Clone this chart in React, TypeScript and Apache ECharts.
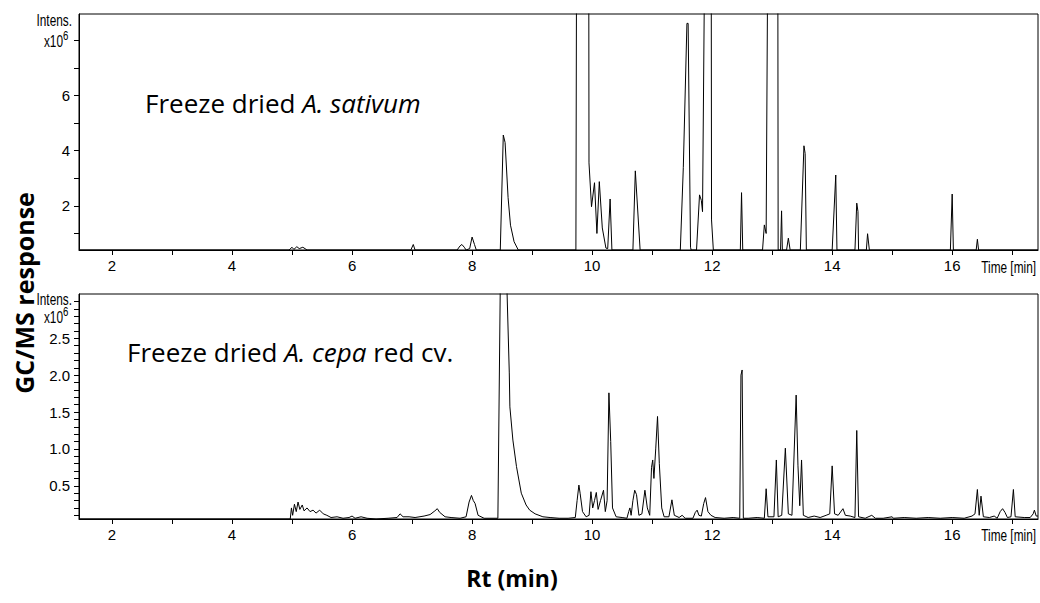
import React, { useEffect, useRef } from "react";
import * as echarts from "echarts";

// Retention time axis (min)
const xLabelValues = [2, 4, 6, 8, 10, 12, 14, 16];
const xTickValues = [2, 3, 4, 5, 6, 7, 8, 9, 10, 11, 12, 13, 14, 15, 16, 17];

// Panel 1: Freeze dried A. sativum (intensity x10^6)
const sativumYLabels = [2, 4, 6];
const sativumYTicks = [1, 2, 3, 4, 5, 6, 7, 8];
const sativumTime = [
  1.45, 4.95, 5.0, 5.03, 5.08, 5.12, 5.18, 5.25, 6.98, 7.02, 7.05, 7.75, 7.8, 7.83, 7.87, 7.9,
  7.96, 8.0, 8.04, 8.07, 8.47, 8.52, 8.55, 8.6, 8.64, 8.7, 8.77, 9.73, 9.75, 9.94, 9.948,
  9.99, 10.04, 10.08, 10.12, 10.17, 10.23, 10.26, 10.3, 10.33, 10.68, 10.72, 10.8,
  11.47, 11.52, 11.58, 11.6, 11.64, 11.65, 11.74, 11.79, 11.82, 11.84, 11.91, 11.98, 11.99, 12.02,
  12.47, 12.49, 12.51, 12.84, 12.87, 12.9, 12.95, 13.09, 13.1, 13.14, 13.157, 13.17,
  13.24, 13.27, 13.3, 13.47, 13.53, 13.55, 13.57, 14.0, 14.06, 14.08, 14.38, 14.41, 14.43, 14.44,
  14.57, 14.59, 14.62, 15.97, 16.0, 16.02, 16.4, 16.42, 16.44, 17.43,
];
const sativumIntensity = [
  0.4, 0.4, 0.5, 0.42, 0.52, 0.45, 0.5, 0.4, 0.4, 0.6, 0.4, 0.4, 0.55, 0.6, 0.5, 0.4,
  0.45, 0.87, 0.6, 0.4, 0.4, 4.57, 4.3, 2.3, 1.3, 0.7, 0.4, 0.4, 20, 20, 3.56,
  1.97, 2.84, 1.0, 2.88, 1.2, 0.47, 0.45, 2.25, 0.4, 0.4, 3.27, 0.4,
  0.4, 3.4, 8.62, 8.62, 0.5, 0.4, 0.4, 2.4, 2.2, 1.79, 20, 20, 1.49, 0.4,
  0.4, 2.48, 0.4, 0.4, 1.31, 1.0, 20, 20, 0.4, 0.4, 1.82, 0.4,
  0.4, 0.83, 0.4, 0.4, 4.18, 3.9, 0.4, 0.4, 3.12, 0.4, 0.4, 2.1, 1.8, 0.4,
  0.4, 0.99, 0.4, 0.4, 2.43, 0.4, 0.4, 0.79, 0.4, 0.4,
];

// Panel 2: Freeze dried A. cepa red cv. (intensity x10^6)
const cepaYLabels = [0.5, 1.0, 1.5, 2.0, 2.5];
const cepaYTicks = [
  0.1, 0.2, 0.3, 0.4, 0.5, 0.6, 0.7, 0.8, 0.9, 1.0, 1.1, 1.2, 1.3, 1.4, 1.5,
  1.6, 1.7, 1.8, 1.9, 2.0, 2.1, 2.2, 2.3, 2.4, 2.5, 2.6, 2.7, 2.8, 2.9, 3.0,
];
const cepaTime = [
  1.45, 4.97, 4.99, 5.01, 5.04, 5.07, 5.1, 5.13, 5.17, 5.2, 5.25, 5.3, 5.35, 5.4, 5.46, 5.52,
  5.58, 5.65, 5.75, 5.85, 5.95, 6.0, 6.05, 6.15, 6.25, 6.4, 6.6, 6.75, 6.8, 6.85, 6.95,
  7.05, 7.2, 7.3, 7.38, 7.42, 7.46, 7.55, 7.65, 7.8, 7.9, 7.95, 7.99, 8.02, 8.05, 8.1, 8.2,
  8.43, 8.53, 8.58, 8.62, 8.63, 8.68, 8.74, 8.82, 8.9, 8.96, 9.05, 9.18, 9.3, 9.45, 9.6,
  9.72, 9.75, 9.78, 9.8, 9.84, 9.9, 9.95, 9.98, 10.01, 10.04, 10.07, 10.1, 10.14, 10.19,
  10.22, 10.25, 10.28, 10.31, 10.34, 10.4, 10.5, 10.58, 10.61, 10.63, 10.65, 10.68, 10.71,
  10.74, 10.78, 10.83, 10.88, 10.92, 10.96, 10.99, 11.01, 11.03, 11.06, 11.09, 11.12, 11.16,
  11.2, 11.28, 11.33, 11.37, 11.45, 11.5, 11.55, 11.68, 11.72, 11.75, 11.78, 11.82, 11.86,
  11.89, 11.93, 11.98, 12.05, 12.2, 12.35, 12.46, 12.48, 12.5, 12.52, 12.6, 12.75, 12.87,
  12.9, 12.93, 13.03, 13.07, 13.1, 13.16, 13.22, 13.27, 13.33, 13.4, 13.43, 13.46, 13.49,
  13.52, 13.6, 13.7, 13.8, 13.9, 13.96, 14.0, 14.04, 14.1, 14.18, 14.22, 14.3, 14.38, 14.41,
  14.44, 14.55, 14.66, 14.72, 14.85, 15.0, 15.02, 15.2, 15.4, 15.6, 15.8, 16.0, 16.2, 16.33,
  16.38, 16.42, 16.45, 16.48, 16.52, 16.62, 16.7, 16.75, 16.8, 16.84, 16.88, 16.92, 16.98,
  17.02, 17.05, 17.2, 17.3, 17.35, 17.37, 17.4, 17.43,
];
const cepaIntensity = [
  0.05, 0.05, 0.2, 0.1, 0.25, 0.15, 0.28, 0.18, 0.24, 0.16, 0.2, 0.15, 0.17, 0.13, 0.17, 0.12,
  0.1, 0.07, 0.08, 0.06, 0.07, 0.09, 0.06, 0.08, 0.06, 0.05, 0.06, 0.07, 0.12, 0.08, 0.08,
  0.07, 0.09, 0.11, 0.16, 0.19, 0.14, 0.08, 0.07, 0.06, 0.08, 0.28, 0.37, 0.3, 0.26, 0.1, 0.06,
  0.06, 8.0, 3.2, 2.03, 1.57, 1.12, 0.76, 0.4, 0.24, 0.17, 0.12, 0.08, 0.07, 0.06, 0.06,
  0.07, 0.3, 0.51, 0.4, 0.15, 0.08, 0.1, 0.42, 0.2, 0.3, 0.41, 0.18, 0.3, 0.44,
  0.15, 0.3, 1.76, 1.1, 0.2, 0.08, 0.07, 0.06, 0.15, 0.2, 0.1, 0.3, 0.44,
  0.38, 0.1, 0.12, 0.44, 0.2, 0.1, 0.75, 0.85, 0.6, 1.0, 1.44, 0.8, 0.2,
  0.08, 0.08, 0.31, 0.1, 0.07, 0.1, 0.06, 0.06, 0.14, 0.17, 0.1, 0.09, 0.26,
  0.34, 0.15, 0.1, 0.07, 0.06, 0.07, 0.06, 2.0, 2.07, 0.06, 0.06, 0.07, 0.06,
  0.46, 0.08, 0.08, 0.85, 0.08, 0.1, 1.01, 0.12, 0.1, 1.73, 0.78, 0.23, 0.85,
  0.1, 0.07, 0.09, 0.07, 0.1, 0.12, 0.77, 0.12, 0.1, 0.19, 0.1, 0.09, 0.07, 1.25,
  0.08, 0.06, 0.1, 0.06, 0.06, 0.08, 0.06, 0.07, 0.06, 0.07, 0.06, 0.07, 0.06, 0.09,
  0.12, 0.45, 0.1, 0.36, 0.08, 0.07, 0.09, 0.06, 0.15, 0.19, 0.14, 0.07, 0.08,
  0.45, 0.08, 0.07, 0.07, 0.12, 0.17, 0.09, 0.09,
];

const X_MIN = 1.45;
const X_MAX = 17.43;

const SANS = "'Liberation Sans', Arial, sans-serif";
const TITLE_FONT = "'Open Sans', Lato, sans-serif";
const NARROW_SCALE = 0.74;

function zip(xs: number[], ys: number[]) {
  return xs.map((x, i) => [x, ys[i]]);
}

export default function App() {
  const ref = useRef<HTMLDivElement>(null);

  useEffect(() => {
    if (!ref.current) return;
    const chart = echarts.init(ref.current, null, { renderer: "svg" });

    const xAxisBase = (gridIndex: number) => ({
      gridIndex,
      type: "value",
      min: X_MIN,
      max: X_MAX,
      axisLine: { show: true, onZero: false, lineStyle: { color: "#000", width: 1 } },
      axisTick: { show: true, customValues: xTickValues, length: 5, lineStyle: { color: "#000" } },
      axisLabel: {
        customValues: xLabelValues,
        margin: 8,
        fontFamily: SANS,
        fontSize: 15,
        color: "#000",
      },
      splitLine: { show: false },
    });

    const yAxisBase = (
      gridIndex: number,
      min: number,
      max: number,
      labels: number[],
      ticks: number[],
      decimals: number
    ) => ({
      gridIndex,
      type: "value",
      min,
      max,
      axisLine: { show: true, onZero: false, lineStyle: { color: "#000", width: 1 } },
      axisTick: { show: true, customValues: ticks, length: 5, lineStyle: { color: "#000" } },
      axisLabel: {
        customValues: labels,
        margin: 9,
        fontFamily: SANS,
        fontSize: 15,
        color: "#000",
        formatter: (v: number) => v.toFixed(decimals),
      },
      splitLine: { show: false },
    });

    const narrowText = (x: number, y: number, text: string, size: number, align: string) => ({
      type: "text",
      x,
      y,
      scaleX: NARROW_SCALE,
      style: {
        text,
        fontFamily: SANS,
        fontSize: size,
        fill: "#000",
        align,
        verticalAlign: "middle",
      },
    });

    const titleRich = {
      n: { fontFamily: TITLE_FONT, fontSize: 26, fill: "#000", color: "#000" },
      i: { fontFamily: TITLE_FONT, fontSize: 26, fontStyle: "italic", fill: "#000", color: "#000" },
    };

    const option: any = {
      animation: false,
      backgroundColor: "#fff",
      grid: [
        { left: 79, top: 14, right: 2, height: 236, show: true, borderColor: "#000", borderWidth: 1 },
        { left: 79, top: 294, right: 2, height: 225, show: true, borderColor: "#000", borderWidth: 1 },
      ],
      xAxis: [xAxisBase(0), xAxisBase(1)],
      yAxis: [
        yAxisBase(0, 0.4, 8.96, sativumYLabels, sativumYTicks, 0),
        yAxisBase(1, 0.05, 3.1, cepaYLabels, cepaYTicks, 1),
      ],
      series: [
        {
          type: "line",
          xAxisIndex: 0,
          yAxisIndex: 0,
          data: zip(sativumTime, sativumIntensity),
          showSymbol: false,
          symbol: "none",
          clip: true,
          lineStyle: { color: "#000", width: 1 },
        },
        {
          type: "line",
          xAxisIndex: 1,
          yAxisIndex: 1,
          data: zip(cepaTime, cepaIntensity),
          showSymbol: false,
          symbol: "none",
          clip: true,
          lineStyle: { color: "#000", width: 1 },
        },
      ],
      graphic: [
        // Top panel y-axis header
        narrowText(72, 20, "Intens.", 16, "right"),
        narrowText(63, 41, "x10", 16, "right"),
        narrowText(63, 35, "6", 13, "left"),
        // Bottom panel y-axis header
        narrowText(72, 299, "Intens.", 16, "right"),
        narrowText(63, 317, "x10", 16, "right"),
        narrowText(63, 311, "6", 13, "left"),
        // Time [min]
        narrowText(1036, 267, "Time [min]", 16, "right"),
        narrowText(1036, 535, "Time [min]", 16, "right"),
        // Panel titles
        {
          type: "text",
          x: 145,
          y: 103,
          style: { text: "{n|Freeze dried }{i|A. sativum}", verticalAlign: "middle", rich: titleRich },
        },
        {
          type: "text",
          x: 127,
          y: 352,
          style: { text: "{n|Freeze dried }{i|A. cepa}{n| red cv.}", verticalAlign: "middle", rich: titleRich },
        },
        // Axis titles
        {
          type: "text",
          x: 24,
          y: 293,
          rotation: Math.PI / 2,
          style: {
            text: "GC/MS response",
            fontFamily: TITLE_FONT,
            fontSize: 25,
            fontWeight: "bold",
            fill: "#000",
            align: "center",
            verticalAlign: "middle",
          },
        },
        {
          type: "text",
          x: 512,
          y: 578,
          style: {
            text: "Rt (min)",
            fontFamily: TITLE_FONT,
            fontSize: 23,
            fontWeight: "bold",
            fill: "#000",
            align: "center",
            verticalAlign: "middle",
          },
        },
      ],
    };

    chart.setOption(option);
    return () => chart.dispose();
  }, []);

  return (
    <div
      ref={ref}
      style={{ position: "fixed", left: 0, top: 0, width: 1040, height: 603, background: "#fff" }}
    />
  );
}
